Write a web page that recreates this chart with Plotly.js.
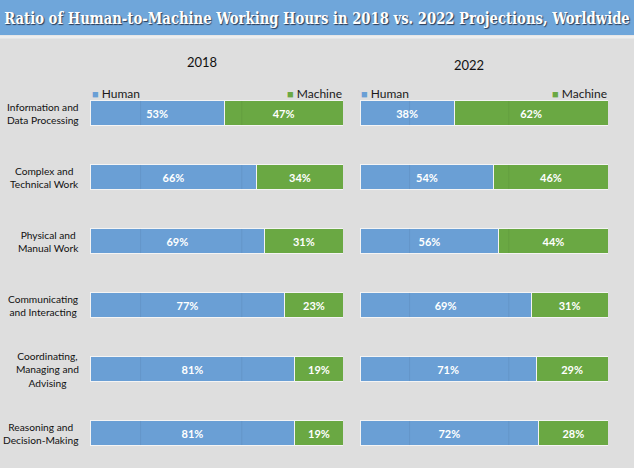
<!DOCTYPE html>
<html>
<head>
<meta charset="utf-8">
<script src="https://cdn.plot.ly/plotly-3.0.1.min.js"></script>
<style>html,body{margin:0;padding:0;background:#dedede;}#chart{width:634px;height:468px;}</style>
</head>
<body>
<div id="chart"></div>
<script>
const categories = [
  "Information and<br>Data Processing",
  "Complex and<br>Technical Work",
  "Physical and<br>Manual Work",
  "Communicating<br>and Interacting",
  "Coordinating,<br>Managing and<br>Advising",
  "Reasoning and<br>Decision-Making"
];
const human2018 = [53, 66, 69, 77, 81, 81];
const machine2018 = [47, 34, 31, 23, 19, 19];
const human2022 = [38, 54, 56, 69, 71, 72];
const machine2022 = [62, 46, 44, 31, 29, 28];
const years = ["2018", "2022"];
const seriesNames = ["Human", "Machine"];
const gridVals = [20, 60];

const BLUE = "#6a9fd5";
const GREEN = "#6aa843";
const idx = categories.map((c, i) => i);
const W = 634, H = 468, T = 81, B = 3, PH = H - T - B;
const py = p => (H - B - p) / PH;
const px = p => p / W;

function barTrace(vals, name, color, xa) {
  return {
    type: "bar", orientation: "h", y: idx, x: vals, name: name,
    xaxis: xa, yaxis: "y", width: 0.39,
    marker: {color: color, line: {color: "#f4f4f4", width: 1}},
    text: vals.map(v => v + "%"), textposition: "inside", insidetextanchor: "middle",
    textfont: {color: "#ffffff", size: 11, family: "Lato", weight: "bold"},
    cliponaxis: false, hoverinfo: "none", showlegend: false
  };
}

const data = [
  barTrace(human2018, seriesNames[0], BLUE, "x"),
  barTrace(machine2018, seriesNames[1], GREEN, "x"),
  barTrace(human2022, seriesNames[0], BLUE, "x2"),
  barTrace(machine2022, seriesNames[1], GREEN, "x2")
];

const annotations = [];
categories.forEach((c, i) => {
  annotations.push({xref: "paper", yref: "y", x: px(81), y: i, text: c, showarrow: false,
    align: "center", xanchor: "right", yanchor: "middle",
    font: {family: "Lato", size: 10.2, color: "#111111"}});
});
const yearX = [px(202), px(469)];
const yearY = [py(62), py(65)];
years.forEach((y, k) => {
  annotations.push({xref: "paper", yref: "paper", x: yearX[k], y: yearY[k], text: y, showarrow: false,
    xanchor: "center", yanchor: "middle", font: {family: "Lato", size: 13, color: "#111"}});
});
const legL = [px(90), px(359)], legR = [px(344), px(609)];
[0, 1].forEach(k => {
  annotations.push({xref: "paper", yref: "paper", x: legL[k], y: py(93), showarrow: false,
    xanchor: "left", yanchor: "middle",
    text: '<span style="color:' + BLUE + ';font-size:11px">■</span> ' + seriesNames[0],
    font: {family: "Lato", size: 12, color: "#1a1a1a"}});
  annotations.push({xref: "paper", yref: "paper", x: legR[k], y: py(93), showarrow: false,
    xanchor: "right", yanchor: "middle",
    text: '<span style="color:' + GREEN + ';font-size:11px">■</span> ' + seriesNames[1],
    font: {family: "Lato", size: 12, color: "#1a1a1a"}});
});

const shapes = [
  {type: "rect", xref: "paper", yref: "paper", x0: -0.01, x1: 1.01, y0: py(35), y1: py(-5),
    fillcolor: "#6fa6da", line: {width: 0}, layer: "below"},
  {type: "line", xref: "paper", yref: "paper", x0: -0.01, x1: 1.01, y0: py(37), y1: py(37),
    line: {color: "#eeeeee", width: 3}, layer: "below"}
];
["x", "x2"].forEach(xa => {
  idx.forEach(i => {
    gridVals.forEach(g => {
      shapes.push({type: "line", xref: xa, yref: "y", x0: g, x1: g, y0: i - 0.19, y1: i + 0.19,
        line: {color: "rgba(0,0,0,0.06)", width: 1}, layer: "above"});
    });
  });
});

const axisCommon = {range: [0, 100], showgrid: false, zeroline: false, showticklabels: false,
  ticks: "", showline: false, fixedrange: true};

const layout = {
  width: W, height: H,
  margin: {l: 0, r: 0, t: T, b: B},
  paper_bgcolor: "#dedede", plot_bgcolor: "rgba(0,0,0,0)",
  barmode: "stack", bargap: 0,
  title: {text: "Ratio of Human-to-Machine Working Hours in 2018 vs. 2022 Projections, Worldwide",
    x: 0.5, xanchor: "center", xref: "paper", y: 1 - 18 / H, yref: "container", yanchor: "middle",
    font: {family: "DejaVu Serif Condensed", size: 17, color: "#ffffff", weight: "bold",
      shadow: "1px 1px 1px #2a3a55"}},
  xaxis: Object.assign({domain: [px(90), px(343)], anchor: "y"}, axisCommon),
  xaxis2: Object.assign({domain: [px(360), px(608)], anchor: "y"}, axisCommon),
  yaxis: {range: [5.5, -0.5], showgrid: false, zeroline: false, showticklabels: false,
    ticks: "", showline: false, fixedrange: true},
  annotations: annotations,
  shapes: shapes,
  showlegend: false
};

Plotly.newPlot("chart", data, layout, {displayModeBar: false, staticPlot: true}).then(gd => {
  // condense the title horizontally so it spans the band like the reference
  const t = gd.querySelector(".gtitle");
  if (t) {
    const bb = t.getBBox();
    const target = 626;
    const s = Math.min(1, target / bb.width);
    const cx = W / 2;
    t.setAttribute("transform", "translate(" + cx + ",0) scale(" + s + ",1) translate(" + (-cx) + ",0)");
  }
});
</script>
</body>
</html>
